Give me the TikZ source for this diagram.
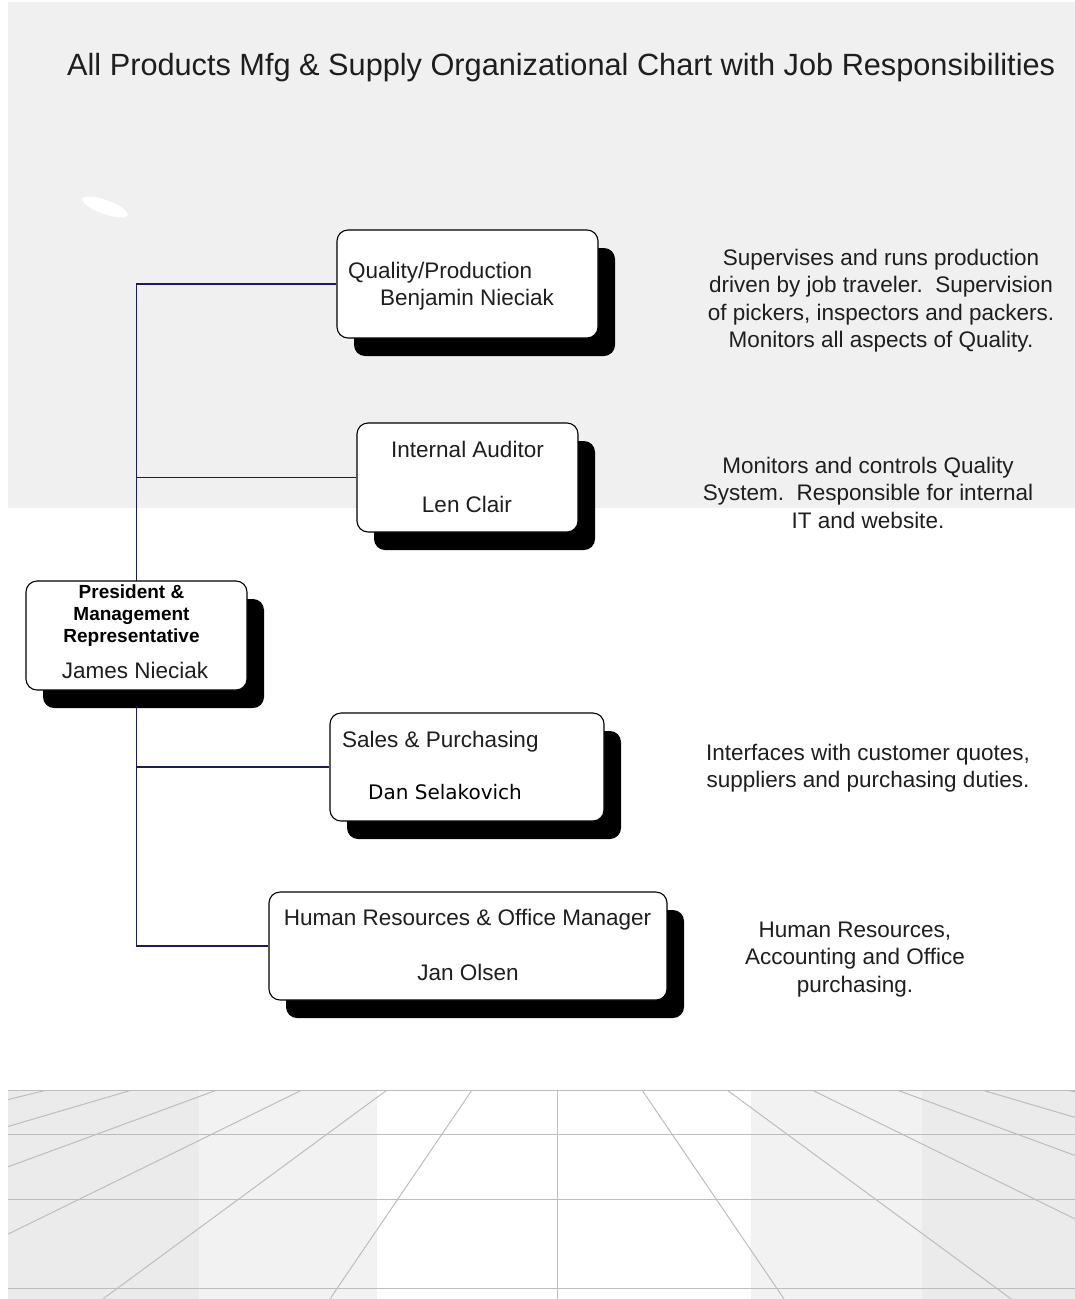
\documentclass[tikz,border=0pt]{standalone}
\usepackage{fontspec}
\setmainfont{Liberation Sans}
\newfontfamily\dvsans{DejaVu Sans}
\usetikzlibrary{shadows}
\pgfdeclarelayer{bgl}
\pgfdeclarelayer{lnl}
\pgfsetlayers{bgl,lnl,main}
\definecolor{panel}{HTML}{F0F0F0}
\definecolor{floorA}{HTML}{EBEBEB}
\definecolor{floorB}{HTML}{F2F2F2}
\definecolor{floorln}{HTML}{BDBDBD}
\definecolor{navy}{HTML}{1C1C5C}
\definecolor{textc}{HTML}{1E1E1E}
\begin{document}
\begin{tikzpicture}[x=1pt,y=-1pt,
  boxst/.style={draw=black, line width=1.1pt, fill=white, rounded corners=11pt, inner sep=0pt,
    general shadow={fill=black, shadow xshift=17pt, shadow yshift=-18pt}},
  txt/.style={inner sep=0pt, text=textc, font=\fontsize{22.5}{27.5}\selectfont},
  boldtxt/.style={inner sep=0pt, text=black, font=\fontsize{19}{21.5}\selectfont\bfseries},
  desc/.style={inner sep=0pt, align=center, text=textc, font=\fontsize{22.5}{27.5}\selectfont},
  conn/.style={draw=navy, line width=1.8pt},
  floorline/.style={draw=floorln, line width=1pt}]
\useasboundingbox (0,0) rectangle (1075,1299);

\begin{pgfonlayer}{bgl}
  \fill[white] (0,0) rectangle (1075,1299);
  \fill[panel] (8,2) rectangle (1075,508);
  \fill[white, rotate around={-20:(105,207)}] (105,207) ellipse [x radius=24pt, y radius=7pt];
  % floor
  \fill[floorA] (8,1090) rectangle (199,1299);
  \fill[floorB] (199,1090) rectangle (377,1299);
  \fill[floorB] (751,1090) rectangle (922,1299);
  \fill[floorA] (922,1090) rectangle (1075,1299);
  \begin{scope}
    \clip (8,1090) rectangle (1075,1299);
    \foreach \k in {-6,-5,-4,-3,-2,-1,1,2,3,4,5,6}
      \draw[floorline] ({557+85*\k},1090) -- ({557+227.1*\k},1299);
  \end{scope}
  \draw[floorline] (8,1090) -- (1075,1090);
  \draw[floorline] (8,1134) -- (1075,1134);
  \draw[floorline] (8,1199) -- (1075,1199);
  \draw[floorline] (8,1288) -- (1075,1288);
  \draw[floorline] (557,1090) -- (557,1299);
\end{pgfonlayer}

% title
\node[inner sep=0pt, anchor=base west, text=textc, font=\fontsize{30.7}{36}\selectfont] (title) at (67,75)
  {All Products Mfg \& Supply Organizational Chart with Job Responsibilities};

% boxes
\node[boxst, minimum width=261pt, minimum height=108pt] (Q) at (467.5,284) {};
\node[boxst, minimum width=221pt, minimum height=109pt] (IA) at (467.5,477.5) {};
\node[boxst, minimum width=221pt, minimum height=109pt] (P) at (136.5,635.5) {};
\node[boxst, minimum width=274pt, minimum height=108pt] (S) at (467,767) {};
\node[boxst, minimum width=398pt, minimum height=108pt] (HR) at (468,946) {};

% connectors
\begin{pgfonlayer}{lnl}
  \draw[conn] (P.center) |- (Q.west);
  \draw[conn] (P.center) |- (IA.west);
  \draw[conn] (P.center) |- (S.west);
  \draw[conn] (P.center) |- (HR.west);
\end{pgfonlayer}

% box texts
\node[txt, anchor=base west] (Qt1) at (348,278) {Quality/Production};
\node[txt, anchor=base west] (Qt2) at (380,305) {Benjamin Nieciak};
\node[txt, anchor=base] (IAt1) at (467.5,457) {Internal Auditor};
\node[txt, anchor=base] (IAt2) at (467,512) {Len Clair};
\node[boldtxt, anchor=base] (Pt1) at (131.5,598) {President \&};
\node[boldtxt, anchor=base] (Pt2) at (131.5,620) {Management};
\node[boldtxt, anchor=base] (Pt3) at (131.5,642) {Representative};
\node[txt, anchor=base] (Pt4) at (135,678) {James Nieciak};
\node[txt, anchor=base west] (St1) at (342,747) {Sales \& Purchasing};
\node[inner sep=0pt, anchor=base west, text=black, font=\dvsans\fontsize{20}{24}\selectfont] (St2) at (368,799) {Dan Selakovich};
\node[txt, anchor=base] (HRt1) at (467.5,925) {Human Resources \& Office Manager};
\node[txt, anchor=base] (HRt2) at (468,980) {Jan Olsen};

% descriptions
\node[desc, anchor=north] (dA) at (881,248.5)
  {Supervises and runs production\\driven by job traveler.\ \ Supervision\\of pickers, inspectors and packers.\\Monitors all aspects of Quality.};
\node[desc, anchor=north] (dB) at (868,456.5)
  {Monitors and controls Quality\\System.\ \ Responsible for internal\\IT and website.};
\node[desc, anchor=north] (dC) at (868,743.5)
  {Interfaces with customer quotes,\\suppliers and purchasing duties.};
\node[desc, anchor=north] (dD) at (855,921.5)
  {Human Resources,\\Accounting and Office\\purchasing.};
\end{tikzpicture}
\end{document}
